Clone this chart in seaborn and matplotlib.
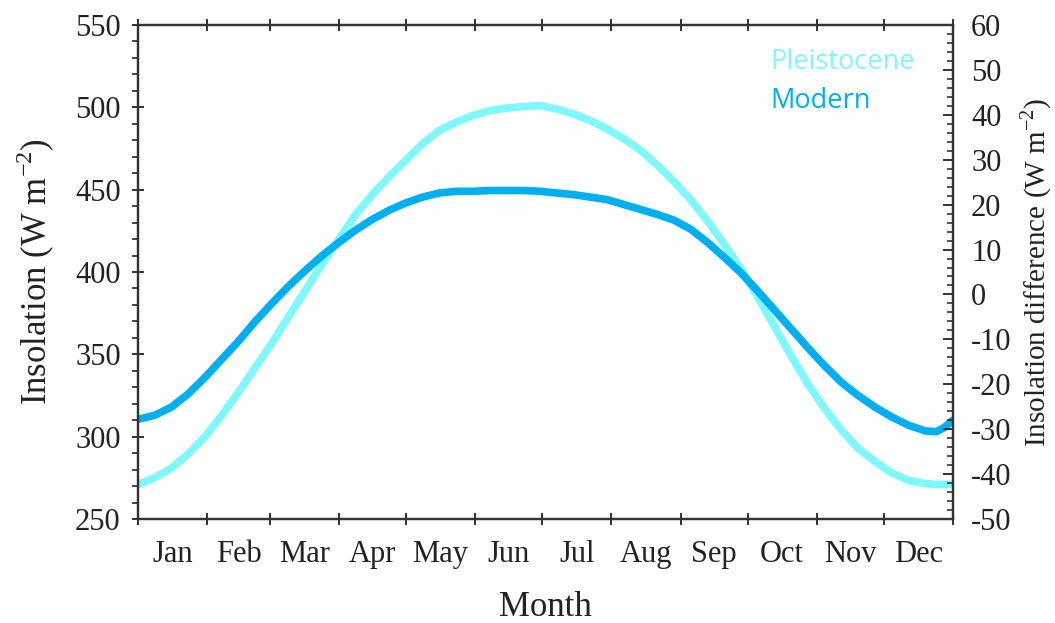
import numpy as np
import pandas as pd
import matplotlib
matplotlib.use("Agg")
import matplotlib.pyplot as plt
from matplotlib.ticker import MultipleLocator, FixedLocator, NullFormatter, FixedFormatter
import seaborn as sns

# ---- data ----
day = [0, 7.5, 15, 22.5, 30, 37.5, 45, 52.5, 60, 67.5, 75, 82.5, 90, 97.5, 105, 112.5,
       120, 127.5, 135, 142.5, 150, 157.5, 165, 172.5, 180, 187.5, 195, 202.5, 210,
       217.5, 225, 232.5, 240, 247.5, 255, 262.5, 270, 277.5, 285, 292.5, 300, 307.5,
       315, 322.5, 330, 337.5, 345, 352.5, 357.5, 361, 365]
pleistocene = [271, 275, 281, 289.5, 300, 313, 327, 342, 357, 373, 389, 405, 420, 435,
               447, 458, 468, 478, 486, 491, 495, 498, 499.5, 500.5, 501, 499, 496, 492,
               487, 481, 474, 465, 455, 444, 431, 417, 402, 385, 367, 349, 332, 317,
               304, 293, 285, 278, 273.5, 271.5, 271, 271, 271]
modern = [310.5, 313, 318, 326, 336, 347, 358, 370, 381, 391.5, 401, 410, 418, 425.5,
          432, 437.5, 442, 445.5, 448, 449, 449, 449.5, 449.5, 449.5, 449, 448, 447,
          445.5, 444, 441, 438, 435, 431.5, 426, 418, 409, 399.5, 388.5, 377, 365.5, 354,
          343, 333, 325, 318, 312, 307, 303.5, 303, 305.5, 310]
month_edges = [0, 31, 59, 90, 120, 151, 181, 212, 243, 273, 304, 334, 365]
month_labels = ["Jan", "Feb", "Mar", "Apr", "May", "Jun", "Jul", "Aug", "Sep", "Oct", "Nov", "Dec"]
series_names = ["Pleistocene", "Modern"]
series_colors = ["#7ff8fc", "#00aff0"]

df = pd.concat([
    pd.DataFrame({"day": day, "value": pleistocene, "series": "Pleistocene"}),
    pd.DataFrame({"day": day, "value": modern, "series": "Modern"}),
])

sns.set_style("ticks")
plt.rcParams["font.family"] = ["Liberation Serif", "DejaVu Serif"]
plt.rcParams["mathtext.fontset"] = "custom"
plt.rcParams["mathtext.rm"] = "Liberation Serif"
plt.rcParams["axes.unicode_minus"] = False

fig = plt.figure(figsize=(10.55, 6.23), dpi=100)
ax = fig.add_axes([138 / 1055, 1 - 519 / 623, (953 - 138) / 1055, (519 - 25) / 623])

sns.lineplot(data=df, x="day", y="value", hue="series", hue_order=series_names,
             palette=dict(zip(series_names, series_colors)), linewidth=5.5,
             legend=False, ax=ax, sort=False)

ax.set_xlim(0, 365)
ax.set_ylim(250, 550)

mids = [(a + b) / 2 for a, b in zip(month_edges[:-1], month_edges[1:])]
ax.xaxis.set_major_locator(FixedLocator(month_edges))
ax.xaxis.set_major_formatter(NullFormatter())
ax.xaxis.set_minor_locator(FixedLocator(mids))
ax.xaxis.set_minor_formatter(FixedFormatter(month_labels))
ax.tick_params(axis="x", which="major", direction="inout", length=8, width=1.3,
               top=True, color="#222222")
ax.tick_params(axis="x", which="minor", length=0, pad=15, labelsize=22, colors="#222222")

ax.yaxis.set_major_locator(MultipleLocator(50))
ax.yaxis.set_minor_locator(MultipleLocator(10))
ax.tick_params(axis="y", which="major", direction="inout", length=9, width=1.3,
               labelsize=22, pad=8, colors="#222222")
ax.tick_params(axis="y", which="minor", direction="out", length=4, width=1.2, color="#222222")

for s in ax.spines.values():
    s.set_linewidth(1.6)
    s.set_color("#333333")

ax.set_xlabel("Month", fontsize=25, labelpad=16, color="#222222")
ax.set_ylabel("Insolation (W m$^{\\mathrm{-2}}$)", fontsize=25, labelpad=13, color="#222222")

# right axis
ax2 = ax.twinx()
ax2.set_ylim(-50, 60)
ax2.yaxis.set_major_locator(MultipleLocator(10))
ax2.yaxis.set_minor_locator(MultipleLocator(2))
ax2.tick_params(axis="y", which="major", direction="in", length=7, width=1.3,
                labelsize=22, pad=13, colors="#222222")
ax2.tick_params(axis="y", which="minor", direction="in", length=4, width=1.1, color="#222222")
ax2.set_ylabel("Insolation difference (W m$^{\\mathrm{-2}}$)", fontsize=21, labelpad=5,
               color="#222222")
for s in ax2.spines.values():
    s.set_linewidth(1.6)
    s.set_color("#333333")

# legend as coloured text
for i, (name, col) in enumerate(zip(series_names, series_colors)):
    ax.text(0.776, 0.925 - i * 0.078, name, transform=ax.transAxes, color=col,
            fontsize=19.5, family=["Open Sans", "DejaVu Sans"], va="center", ha="left")

fig.savefig("out.png", dpi=100)
